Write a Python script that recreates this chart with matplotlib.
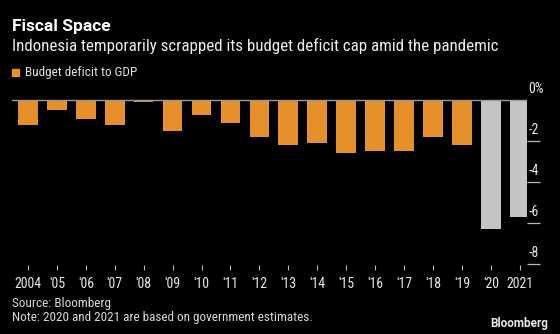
import numpy as np
import matplotlib.pyplot as plt
from matplotlib.transforms import blended_transform_factory

# budget balance as % of GDP
years = ["2004", "'05", "'06", "'07", "'08", "'09", "'10", "'11", "'12",
         "'13", "'14", "'15", "'16", "'17", "'18", "'19", "'20", "2021"]
deficit = [-1.2, -0.5, -0.9, -1.2, -0.1, -1.5, -0.7, -1.1, -1.8,
           -2.2, -2.1, -2.6, -2.5, -2.5, -1.8, -2.2, -6.3, -5.7]
estimate = [False] * 16 + [True, True]
yticks = [0, -2, -4, -6, -8]

orange = "#E5902A"
grey = "#C4C4C4"
fam = ["Roboto Condensed", "DejaVu Sans"]

fig = plt.figure(figsize=(5.6, 3.34), dpi=100, facecolor="black")
ax = fig.add_axes([12 / 560, 1 - 265 / 334, (527 - 12) / 560, (265 - 92) / 334])
ax.set_facecolor("black")

x = np.arange(len(years))
colors = [grey if e else orange for e in estimate]
ax.bar(x, deficit, width=0.68, color=colors, zorder=2)
ax.axhline(0, color="#9A9A9A", lw=1.0, zorder=3)

ax.set_xlim(-0.55, len(years) - 0.75)
ax.set_ylim(-8.05, 0.4)

for s in ax.spines.values():
    s.set_visible(False)

# x axis: small ticks, year labels
ax.set_xticks(x)
ax.set_xticklabels(years, family=fam, fontsize=10, color="#E6E6E6")
ax.tick_params(axis="x", length=3.5, width=0.8, color="#BBBBBB", pad=5)

# y axis on the right, labels sit above the tick marks
ax.yaxis.tick_right()
ax.set_yticks(yticks[1:])
ax.set_yticklabels([])
ax.tick_params(axis="y", length=9, width=0.9, color="#BBBBBB", direction="out")
tr = blended_transform_factory(ax.transAxes, ax.transData)
for v in yticks:
    lab = "0%" if v == 0 else str(v)
    ax.text(1.003, v + 0.2, lab, transform=tr, ha="left", va="bottom",
            family=fam, fontsize=10, color="#E6E6E6")

# titles and legend
fig.text(12 / 560, 1 - 27 / 334, "Fiscal Space", family=["Roboto", "DejaVu Sans"],
         fontweight="bold", fontsize=12.5, color="white", va="center")
fig.text(12 / 560, 1 - 46 / 334,
         "Indonesia temporarily scrapped its budget deficit cap amid the pandemic",
         family=fam, fontsize=12.2, color="#EDEDED", va="center")
fig.patches.append(plt.Rectangle((12 / 560, 1 - 76 / 334), 7 / 560, 7 / 334,
                                 transform=fig.transFigure, color=orange))
fig.text(25 / 560, 1 - 72.5 / 334, "Budget deficit to GDP", family=fam,
         fontsize=9.5, color="#E0E0E0", va="center")

fig.text(12 / 560, 1 - 303 / 334, "Source: Bloomberg", family=fam,
         fontsize=9.5, color="#D8D8D8", va="center")
fig.text(12 / 560, 1 - 318 / 334,
         "Note: 2020 and 2021 are based on government estimates.", family=fam,
         fontsize=9.5, color="#D8D8D8", va="center")
fig.text(548 / 560, 1 - 323 / 334, "Bloomberg", family=["Roboto", "DejaVu Sans"],
         fontweight="bold", fontsize=8.5, color="#E8E8E8", ha="right", va="center")

fig.savefig("out.png", dpi=100, facecolor="black")
